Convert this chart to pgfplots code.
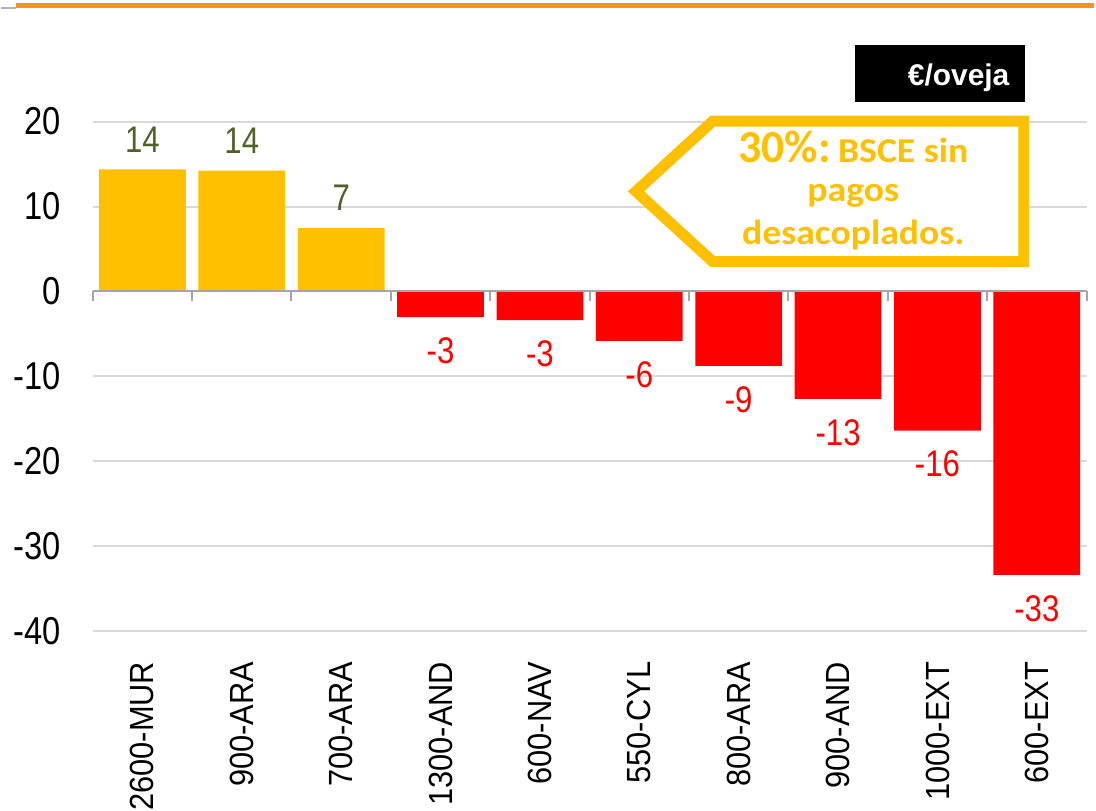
\documentclass[border=0pt]{standalone}
\usepackage{pgfplots}
\usepackage{pgfplotstable}
\pgfplotsset{compat=1.18}
\usepackage{fontspec}
\setmainfont{Liberation Sans}
\newfontfamily\tickfont{Liberation Sans}[FakeStretch=0.84]
\newfontfamily\catfont{Liberation Sans}[FakeStretch=0.92]
\newfontfamily\calfont{Carlito}[FakeStretch=1.08]
\newfontfamily\calfontN{Carlito}
\definecolor{gold}{HTML}{FFC000}
\definecolor{olivelab}{HTML}{4F6228}
\definecolor{gridgray}{HTML}{D9D9D9}
\definecolor{axgray}{HTML}{A6A6A6}
\definecolor{topor}{HTML}{F7941D}

\pgfplotstableread{
x y lab
0 14.36 14
1 14.24 14
2 7.45 7
}\posdata
\pgfplotstableread{
x y lab
3 -3.02 -3
4 -3.37 -3
5 -5.84 -6
6 -8.77 -9
7 -12.65 -13
8 -16.4 -16
9 -33.4 -33
}\negdata

\begin{document}
\begin{tikzpicture}
\begin{scope}[shift={(-46bp,316.5bp)}, x=0.5bp, y=-0.5bp]
  \path[use as bounding box] (0,0) rectangle (1096,809);
\end{scope}
\begin{axis}[
  scale only axis,
  width=498.5bp, height=255.5bp,
  xmin=-0.5, xmax=9.5, ymin=-40, ymax=20,
  ybar, bar width=43.5bp, bar shift=0pt,
  axis line style={draw=none},
  tick style={draw=none},
  ytick={-40,-30,-20,-10,0,10,20},
  yticklabels={-40,-30,-20,-10,0,10,20},
  ymajorgrids,
  grid style={gridgray, line width=1bp},
  xtick={0,1,2,3,4,5,6,7,8,9},
  xticklabels={2600-MUR,900-ARA,700-ARA,1300-AND,600-NAV,550-CYL,800-ARA,900-AND,1000-EXT,600-EXT},
  xticklabel style={rotate=90, anchor=east, inner sep=0pt, font=\catfont\fontsize{16.8bp}{20bp}\selectfont},
  xticklabel shift=11bp,
  yticklabel style={anchor=east, inner sep=0pt, font=\tickfont\fontsize{19.5bp}{22bp}\selectfont},
  yticklabel shift=16bp,
  clip=false,
  point meta=explicit symbolic,
  nodes near coords={\pgfplotspointmeta},
]
\addplot[fill=gold, draw=none,
  every node near coord/.append style={anchor=south, inner sep=0pt, yshift=8.5bp, text=olivelab, font=\tickfont\fontsize{18.6bp}{20bp}\selectfont}]
  table[x=x, y=y, meta=lab] {\posdata};
\addplot[fill=red, draw=none,
  every node near coord/.append style={anchor=north, inner sep=0pt, yshift=-10bp, text=red, font=\tickfont\fontsize{18.6bp}{20bp}\selectfont}]
  table[x=x, y=y, meta=lab] {\negdata};
\draw[axgray, line width=1bp] (axis cs:-0.5,0) -- (axis cs:9.5,0);
\pgfplotsinvokeforeach{-0.5,0.5,1.5,2.5,3.5,4.5,5.5,6.5,7.5,8.5,9.5}{
  \draw[axgray, line width=1bp] (axis cs:#1,0) -- ([yshift=-5bp]axis cs:#1,0);
}
\end{axis}
\begin{scope}[shift={(-46bp,316.5bp)}, x=0.5bp, y=-0.5bp]
  \draw[topor, line width=2.5bp] (15,6) -- (1096,6);
  \draw[gray!60, line width=1bp] (0,8) -- (15,8);
  \fill[black] (857,45) rectangle (1027,102);
  \node[anchor=base east, inner sep=0pt, text=white, font=\bfseries\fontsize{15bp}{18bp}\selectfont] at (1012,86) {€/oveja};
  \draw[gold, line width=5.5bp, fill=white, line join=miter]
    (637,192) -- (714,121.5) -- (1026,121.5) -- (1026,262.5) -- (714,262.5) -- cycle;
  \node[anchor=base, inner sep=0pt, text=gold] at (855,163)
    {{\calfontN\bfseries\fontsize{23bp}{26bp}\selectfont 30\%:} {\calfont\bfseries\fontsize{17.5bp}{20bp}\selectfont BSCE sin}};
  \node[anchor=base, inner sep=0pt, text=gold, font=\calfont\bfseries\fontsize{17.5bp}{20bp}\selectfont] at (855,202) {pagos};
  \node[anchor=base, inner sep=0pt, text=gold, font=\calfont\bfseries\fontsize{17.5bp}{20bp}\selectfont] at (855,245) {desacoplados.};
\end{scope}
\end{tikzpicture}
\end{document}
